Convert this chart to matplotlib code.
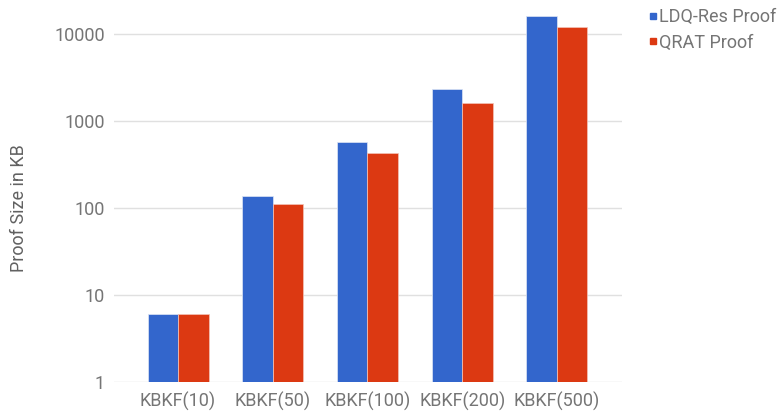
import matplotlib
matplotlib.use("Agg")
import matplotlib.pyplot as plt
from matplotlib.lines import Line2D
import numpy as np

plt.rcParams['font.family'] = ['Roboto', 'DejaVu Sans']

categories = ["KBKF(10)", "KBKF(50)", "KBKF(100)", "KBKF(200)", "KBKF(500)"]
ldq_res = [6, 137, 574, 2333, 16230]
qrat = [6, 110, 425, 1623, 11930]
series_names = ["LDQ-Res Proof", "QRAT Proof"]
y_ticks = [1, 10, 100, 1000, 10000]

blue = "#3366CC"
red = "#DC3912"
text_gray = "#757575"
grid_gray = "#E0E0E0"

W, H = 781, 411
fig = plt.figure(figsize=(W / 100, H / 100), dpi=100)

left_px, right_px, bottom_px, top_px = 114, 622, 382, 5
ax = fig.add_axes([left_px / W, (H - bottom_px) / H,
                   (right_px - left_px) / W, (bottom_px - top_px) / H])

x = np.arange(len(categories))
bw = 0.322
ax.bar(x - bw / 2, ldq_res, width=bw, color=blue, edgecolor="#dfe6f5", linewidth=0.5, zorder=3)
ax.bar(x + bw / 2, qrat, width=bw, color=red, edgecolor="#f3c4b8", linewidth=0.5, zorder=3)

ax.set_yscale("log")
ax.set_ylim(1, 10 ** ((bottom_px - top_px) / 87))
ax.set_xlim(-0.676, 4.687)
ax.set_yticks(y_ticks)
ax.set_yticklabels([str(v) for v in y_ticks])
ax.yaxis.set_minor_locator(matplotlib.ticker.NullLocator())
ax.set_xticks(x)
ax.set_xticklabels(categories)

ax.tick_params(axis="y", length=0, pad=6.5, labelsize=13, labelcolor=text_gray)
ax.tick_params(axis="x", length=0, pad=7, labelsize=13, labelcolor=text_gray)
ax.grid(axis="y", color=grid_gray, linewidth=1, zorder=0)
for s in ax.spines.values():
    s.set_visible(False)

ax.set_ylabel("Proof Size in KB", fontsize=13, color="#616161")
ax.yaxis.set_label_coords(-0.170, 0.462)

handles = [Line2D([], [], marker="s", linestyle="none", markersize=5, color=blue),
           Line2D([], [], marker="s", linestyle="none", markersize=5, color=red)]
fig.legend(handles, series_names, loc="upper left", bbox_to_anchor=(641 / W, 1 - 1 / H),
           frameon=False, fontsize=13, labelcolor=text_gray, handletextpad=0.1,
           handlelength=0.5, labelspacing=0.42, borderaxespad=0)

fig.savefig("out.png", dpi=100)
